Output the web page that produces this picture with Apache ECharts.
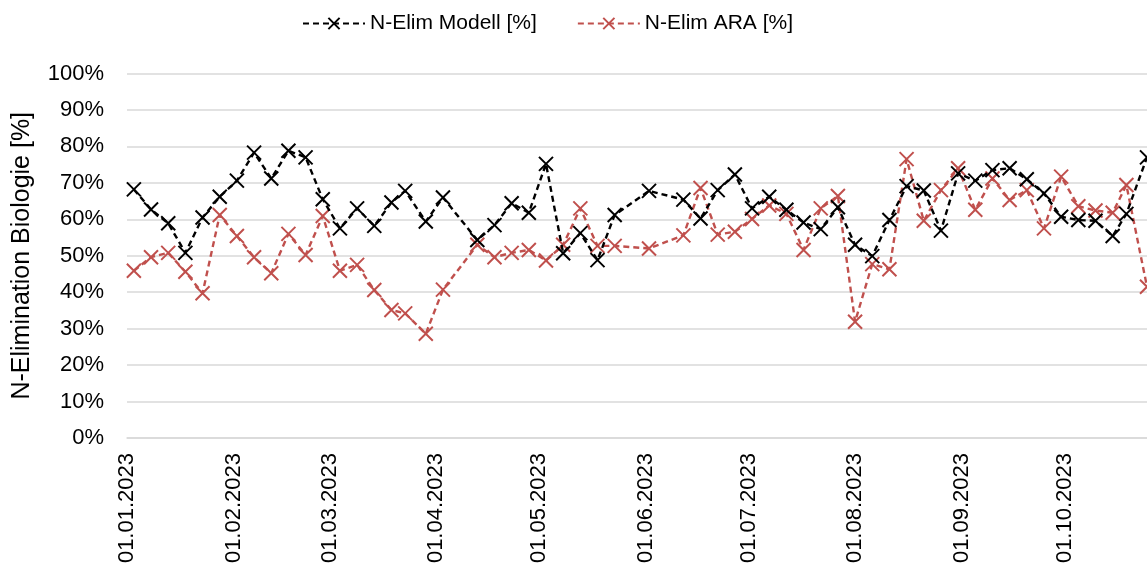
<!DOCTYPE html>
<html>
<head>
<meta charset="utf-8">
<script src="https://cdn.jsdelivr.net/npm/echarts@6/dist/echarts.min.js"></script>
<style>
  html, body { margin: 0; padding: 0; background: #fff; }
  #chart { width: 1147px; height: 573px; }
</style>
</head>
<body>
<div id="chart"></div>
<script>
// Month-start tick labels on the date axis
const tickLabels = ['01.01.2023', '01.02.2023', '01.03.2023', '01.04.2023', '01.05.2023',
  '01.06.2023', '01.07.2023', '01.08.2023', '01.09.2023', '01.10.2023'];

// Sampling dates
const sampleDates = [
  '2023-01-03', '2023-01-08', '2023-01-13', '2023-01-18', '2023-01-23', '2023-01-28',
  '2023-02-02', '2023-02-07', '2023-02-12', '2023-02-17', '2023-02-22', '2023-02-27',
  '2023-03-04', '2023-03-09', '2023-03-14', '2023-03-19', '2023-03-23', '2023-03-29',
  '2023-04-03', '2023-04-13', '2023-04-18', '2023-04-23', '2023-04-28',
  '2023-05-03', '2023-05-08', '2023-05-13', '2023-05-18', '2023-05-23',
  '2023-06-02', '2023-06-12', '2023-06-17', '2023-06-22', '2023-06-27',
  '2023-07-02', '2023-07-07', '2023-07-12', '2023-07-17', '2023-07-22', '2023-07-27',
  '2023-08-01', '2023-08-06', '2023-08-11', '2023-08-16', '2023-08-21', '2023-08-26', '2023-08-31',
  '2023-09-05', '2023-09-10', '2023-09-15', '2023-09-20', '2023-09-25', '2023-09-30',
  '2023-10-05', '2023-10-10', '2023-10-15', '2023-10-19', '2023-10-25'
];

// N-Elimination, model [%]
const modell = [
  68.2, 62.7, 58.9, 50.8, 60.5, 66.2,
  70.6, 78.3, 71.2, 78.8, 77.0, 65.5,
  57.5, 63.0, 58.2, 64.6, 67.8, 59.4,
  66.0, 54.3, 58.4, 64.4, 61.8,
  75.2, 50.7, 56.2, 48.8, 61.2,
  67.8, 65.4, 60.2, 68.0, 72.3,
  63.0, 66.2, 62.6, 59.1, 57.3, 63.3,
  53.0, 49.9, 59.8, 69.1, 67.9, 56.9, 72.6,
  70.6, 73.5, 74.0, 71.0, 67.1, 60.7,
  59.8, 59.6, 55.4, 61.5, 77.0
];

// N-Elimination, plant (ARA) [%]
const ara = [
  45.9, 49.6, 50.8, 45.6, 39.7, 61.2,
  55.4, 49.6, 45.2, 56.0, 50.2, 60.9,
  45.9, 47.5, 40.6, 35.1, 34.2, 28.6,
  40.7, 53.0, 49.6, 50.8, 51.6,
  48.7, 53.0, 63.0, 52.7, 52.7,
  52.0, 55.6, 68.6, 55.8, 56.6,
  60.1, 63.8, 61.5, 51.6, 63.0, 66.4,
  31.9, 47.7, 46.3, 76.5, 59.6, 68.0, 74.0,
  62.6, 71.2, 65.3, 68.0, 57.5, 71.7,
  63.6, 62.4, 61.8, 69.4, 41.5
];

// Dates are placed as day offsets from the start of the year
const DAY = 86400000;
const ORIGIN = Date.UTC(2023, 0, 1);
function labelToDay(s) {
  const p = s.split('.');
  return Math.round((Date.UTC(+p[2], +p[1] - 1, +p[0]) - ORIGIN) / DAY);
}
function isoToDay(s) {
  const p = s.split('-');
  return Math.round((Date.UTC(+p[0], +p[1] - 1, +p[2]) - ORIGIN) / DAY);
}
function pad(n) { return (n < 10 ? '0' : '') + n; }
function dayToLabel(d) {
  const t = new Date(ORIGIN + d * DAY);
  return pad(t.getUTCDate()) + '.' + pad(t.getUTCMonth() + 1) + '.' + t.getUTCFullYear();
}

const tickDays = tickLabels.map(labelToDay);
const xs = sampleDates.map(isoToDay);

const crossSymbol = 'path://M0,0L10,10M10,0L0,10';
const FONT = 'Liberation Sans, Arial, sans-serif';

function makeSeries(name, values, color, z) {
  return {
    name: name,
    type: 'line',
    data: xs.map((x, i) => [x, values[i]]),
    symbol: crossSymbol,
    symbolSize: 14,
    symbolKeepAspect: true,
    showAllSymbol: true,
    itemStyle: { color: color, borderColor: color, borderWidth: 2 },
    lineStyle: { color: color, width: 2.4, type: [6, 4] },
    emphasis: { disabled: true },
    z: z
  };
}

const chart = echarts.init(document.getElementById('chart'), null, { renderer: 'canvas' });
chart.setOption({
  animation: false,
  backgroundColor: '#fff',
  textStyle: { fontFamily: FONT },
  legend: {
    top: 8,
    left: 297,
    itemWidth: 62,
    itemHeight: 14,
    itemGap: 40,
    textStyle: { fontFamily: FONT, fontSize: 21, color: '#000' },
    data: ['N-Elim Modell [%]', 'N-Elim ARA [%]']
  },
  grid: { left: 127, right: 0, top: 73.5, bottom: 135, containLabel: false },
  xAxis: {
    type: 'value',
    min: 0,
    max: xs[xs.length - 1],
    axisLine: { show: true, lineStyle: { color: '#d9d9d9', width: 1.5 } },
    axisTick: { show: false },
    splitLine: { show: false },
    axisLabel: {
      customValues: tickDays,
      rotate: 90,
      margin: 15,
      fontSize: 22,
      fontFamily: FONT,
      color: '#000',
      hideOverlap: false,
      formatter: function (v) { return dayToLabel(v); }
    }
  },
  yAxis: {
    type: 'value',
    min: 0,
    max: 100,
    interval: 10,
    name: 'N-Elimination Biologie [%]',
    nameLocation: 'middle',
    nameGap: 92,
    nameTextStyle: { fontFamily: FONT, fontSize: 25, color: '#000' },
    axisLine: { show: false },
    axisTick: { show: false },
    splitLine: { show: true, lineStyle: { color: '#d9d9d9', width: 1.5 } },
    axisLabel: {
      margin: 23,
      fontSize: 22,
      fontFamily: FONT,
      color: '#000',
      formatter: '{value}%'
    }
  },
  series: [
    makeSeries('N-Elim Modell [%]', modell, '#000000', 3),
    makeSeries('N-Elim ARA [%]', ara, '#C0504D', 2)
  ]
});
</script>
</body>
</html>
